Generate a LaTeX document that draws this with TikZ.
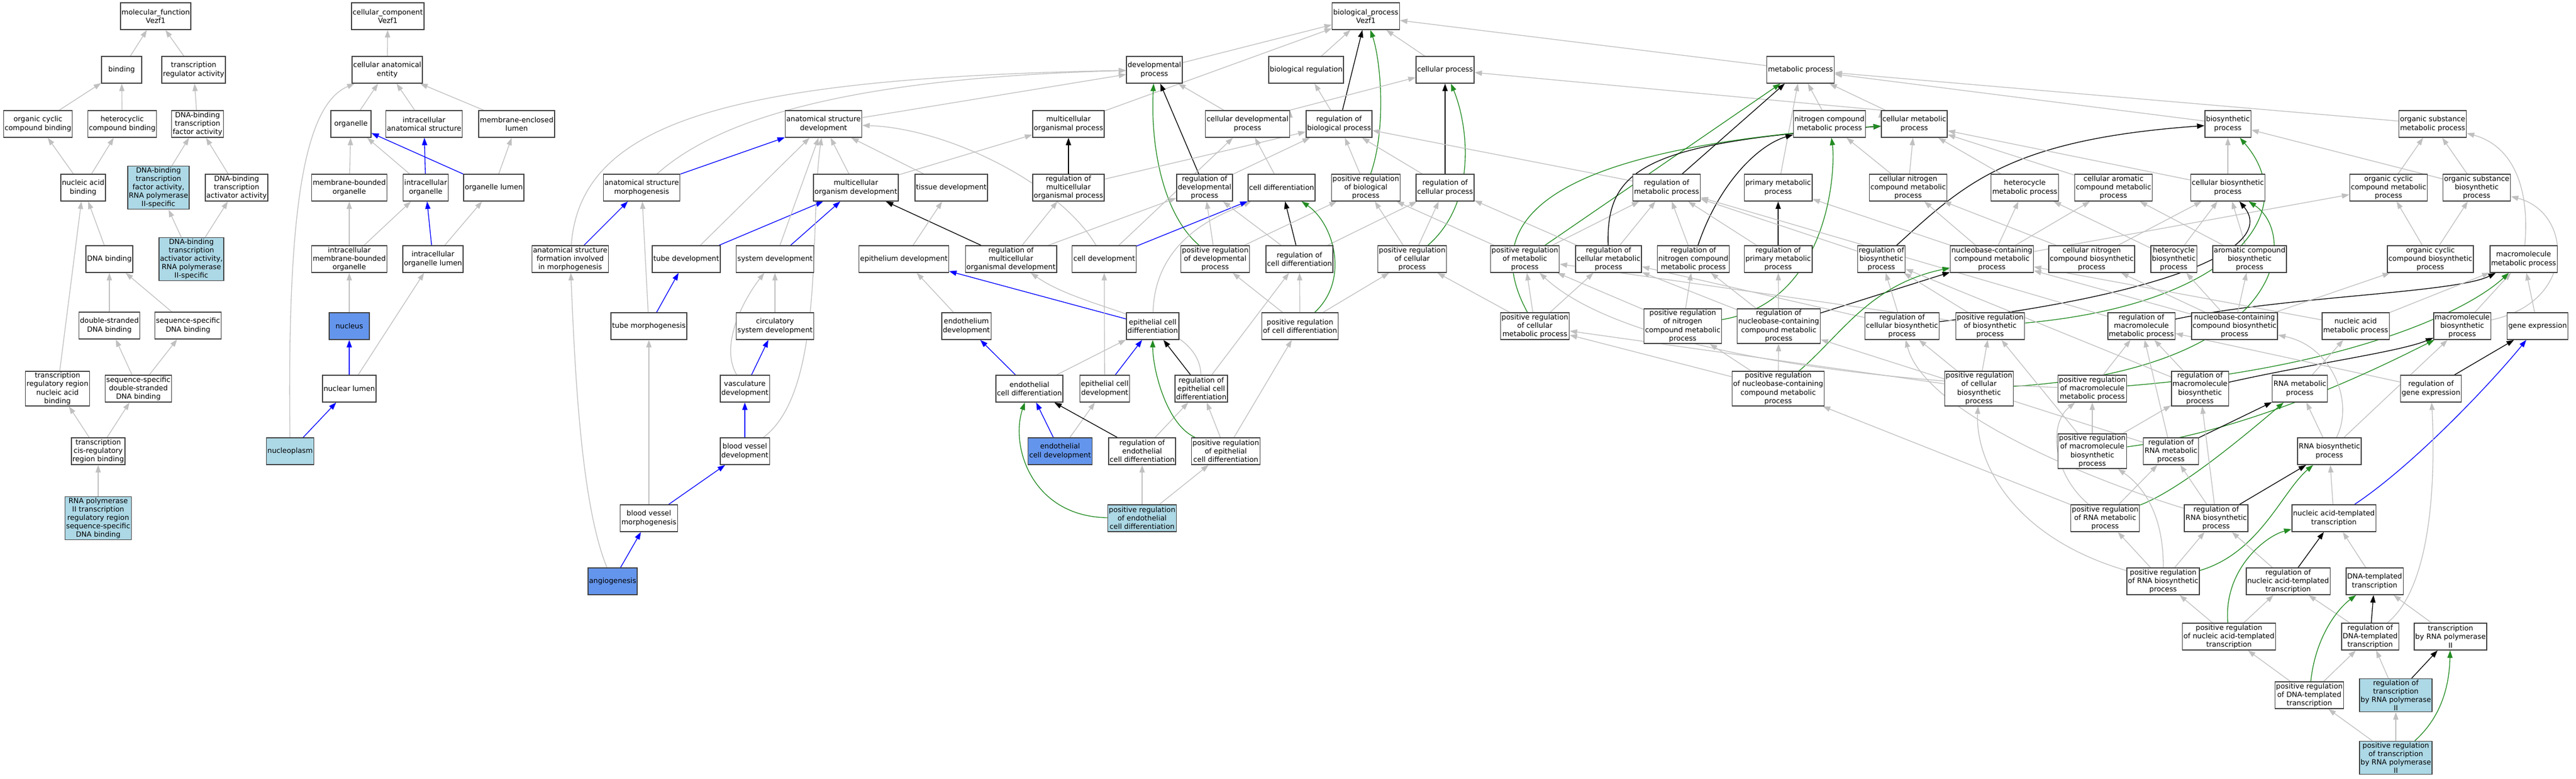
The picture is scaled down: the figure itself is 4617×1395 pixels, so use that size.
\documentclass[tikz,border=0pt]{standalone}
\usepackage{fontspec}
\setmainfont{DejaVu Sans}
\usetikzlibrary{arrows.meta}
\definecolor{edgegray}{HTML}{C0C0C0}
\definecolor{boxline}{HTML}{404040}
\definecolor{annotfill}{HTML}{ADD8E6}
\definecolor{directfill}{HTML}{6495ED}
\definecolor{posgreen}{HTML}{228B22}
\pgfdeclarelayer{bg}
\pgfsetlayers{bg,main}
\tikzset{
  termbox/.style={draw=boxline,line width=1.1pt,fill=white,align=center,inner xsep=1.5pt,inner ysep=1.5pt,
    minimum width=54pt,minimum height=36pt,font=\fontsize{9.6}{11.4}\selectfont},
  annotbox/.style={termbox,fill=annotfill},
  directbox/.style={termbox,fill=directfill},
  isa/.style={color=edgegray,line width=1pt,-{Triangle[length=10pt,width=7pt]}},
  partof/.style={isa,color=blue},
  regulates/.style={isa,color=black},
  posreg/.style={isa,color=posgreen}
}
\begin{document}
\begin{tikzpicture}[x=0.75pt,y=0.75pt]
  \useasboundingbox (0,0) rectangle (4617,-1395);
  \draw(279,-29) node[termbox](mf){molecular\_function\\Vezf1};
  \draw(218,-125) node[termbox](bind){binding};
  \draw(347,-125) node[termbox](tra){transcription\\regulator activity};
  \draw(68,-222) node[termbox](occb){organic cyclic\\compound binding};
  \draw(219,-222) node[termbox](hcb){heterocyclic\\compound binding};
  \draw(354,-222) node[termbox](dbtf){DNA-binding\\transcription\\factor activity};
  \draw(149,-336) node[termbox](nab){nucleic acid\\binding};
  \draw(284,-336) node[annotbox](dbtfii){DNA-binding\\transcription\\factor activity,\\RNA polymerase\\II-specific};
  \draw(424,-336) node[termbox](dbta){DNA-binding\\transcription\\activator activity};
  \draw(196,-464) node[termbox](dnab){DNA binding};
  \draw(343,-464) node[annotbox](dbtaii){DNA-binding\\transcription\\activator activity,\\RNA polymerase\\II-specific};
  \draw(196,-583) node[termbox](dsdb){double-stranded\\DNA binding};
  \draw(337,-583) node[termbox](ssdb){sequence-specific\\DNA binding};
  \draw(103,-696) node[termbox](trrnab){transcription\\regulatory region\\nucleic acid\\binding};
  \draw(248,-696) node[termbox](ssdsdb){sequence-specific\\double-stranded\\DNA binding};
  \draw(176,-808) node[termbox](tcrrb){transcription\\cis-regulatory\\region binding};
  \draw(176,-928) node[annotbox](rnap){RNA polymerase\\II transcription\\regulatory region\\sequence-specific\\DNA binding};

  \draw(695,-29) node[termbox](cc){cellular\_component\\Vezf1};
  \draw(694,-125) node[termbox](cae){cellular anatomical\\entity};
  \draw(629,-222) node[termbox](org){organelle};
  \draw(760,-222) node[termbox](ias){intracellular\\anatomical structure};
  \draw(926,-222) node[termbox](mel){membrane-enclosed\\lumen};
  \draw(626,-336) node[termbox](mbo){membrane-bounded\\organelle};
  \draw(763,-336) node[termbox](io){intracellular\\organelle};
  \draw(885,-336) node[termbox](ol){organelle lumen};
  \draw(626,-464) node[termbox](imbo){intracellular\\membrane-bounded\\organelle};
  \draw(776,-464) node[termbox](iol){intracellular\\organelle lumen};
  \draw(626,-584) node[directbox](nuc){nucleus};
  \draw(626,-696) node[termbox](nl){nuclear lumen};
  \draw(520,-808) node[annotbox](np){nucleoplasm};

  \draw(2448,-29) node[termbox](bp){biological\_process\\Vezf1};
  \draw(2069,-125) node[termbox](dp){developmental\\process};
  \draw(2341,-125) node[termbox](breg){biological regulation};
  \draw(2590,-125) node[termbox](cp){cellular process};
  \draw(3227,-125) node[termbox](mp){metabolic process};
  \draw(1476,-222) node[termbox](asd){anatomical structure\\development};
  \draw(1915,-222) node[termbox](mop){multicellular\\organismal process};
  \draw(2236,-222) node[termbox](cdp){cellular developmental\\process};
  \draw(2400,-222) node[termbox](rbp){regulation of\\biological process};
  \draw(3279,-222) node[termbox](ncmp){nitrogen compound\\metabolic process};
  \draw(3431,-222) node[termbox](cmp){cellular metabolic\\process};
  \draw(3993,-222) node[termbox](bsp){biosynthetic\\process};
  \draw(4360,-222) node[termbox](osmp){organic substance\\metabolic process};

  \draw(1150,-336) node[termbox](asm){anatomical structure\\morphogenesis};
  \draw(1534,-336) node[termbox](mod){multicellular\\organism development};
  \draw(1705,-336) node[termbox](td){tissue development};
  \draw(1915,-336) node[termbox](rmop){regulation of\\multicellular\\organismal process};
  \draw(2159,-336) node[termbox](rdp){regulation of\\developmental\\process};
  \draw(2297,-336) node[termbox](cd){cell differentiation};
  \draw(2448,-336) node[termbox](prbp){positive regulation\\of biological\\process};
  \draw(2590,-336) node[termbox](rcp){regulation of\\cellular process};
  \draw(2987,-336) node[termbox](rmp){regulation of\\metabolic process};
  \draw(3187,-336) node[termbox](pmp){primary metabolic\\process};
  \draw(3420,-336) node[termbox](cncmp){cellular nitrogen\\compound metabolic\\process};
  \draw(3629,-336) node[termbox](hmp){heterocycle\\metabolic process};
  \draw(3788,-336) node[termbox](camp){cellular aromatic\\compound metabolic\\process};
  \draw(3993,-336) node[termbox](cbp){cellular biosynthetic\\process};
  \draw(4281,-336) node[termbox](occmp){organic cyclic\\compound metabolic\\process};
  \draw(4439,-336) node[termbox](osbp){organic substance\\biosynthetic\\process};

  \draw(1022,-464) node[termbox](asfim){anatomical structure\\formation involved\\in morphogenesis};
  \draw(1230,-464) node[termbox](tdev){tube development};
  \draw(1389,-464) node[termbox](sd){system development};
  \draw(1620,-464) node[termbox](ed){epithelium development};
  \draw(1812,-464) node[termbox](rmod){regulation of\\multicellular\\organismal development};
  \draw(1979,-464) node[termbox](cdev){cell development};
  \draw(2178,-464) node[termbox](prdp){positive regulation\\of developmental\\process};
  \draw(2329,-464) node[termbox](rcd){regulation of\\cell differentiation};
  \draw(2531,-464) node[termbox](prcp){positive regulation\\of cellular\\process};
  \draw(2733,-464) node[termbox](prmp){positive regulation\\of metabolic\\process};
  \draw(2883,-464) node[termbox](rcmp){regulation of\\cellular metabolic\\process};
  \draw(3035,-464) node[termbox](rncmp){regulation of\\nitrogen compound\\metabolic process};
  \draw(3187,-464) node[termbox](rpmp){regulation of\\primary metabolic\\process};
  \draw(3372,-464) node[termbox](rbsp){regulation of\\biosynthetic\\process};
  \draw(3570,-464) node[termbox](nccmp){nucleobase-containing\\compound metabolic\\process};
  \draw(3749,-464) node[termbox](cncbp){cellular nitrogen\\compound biosynthetic\\process};
  \draw(3896,-464) node[termbox](hbp){heterocycle\\biosynthetic\\process};
  \draw(4032,-464) node[termbox](acbp){aromatic compound\\biosynthetic\\process};
  \draw(4356,-464) node[termbox](occbp){organic cyclic\\compound biosynthetic\\process};
  \draw(4523,-464) node[termbox](mmp){macromolecule\\metabolic process};

  \draw(1163,-584) node[termbox](tm){tube morphogenesis};
  \draw(1389,-584) node[termbox](csd){circulatory\\system development};
  \draw(1732,-584) node[termbox](endod){endothelium\\development};
  \draw(2066,-584) node[termbox](ecd){epithelial cell\\differentiation};
  \draw(2330,-584) node[termbox](prcd){positive regulation\\of cell differentiation};
  \draw(2751,-584) node[termbox](prcmp){positive regulation\\of cellular\\metabolic process};
  \draw(3016,-584) node[termbox](prncmp){positive regulation\\of nitrogen\\compound metabolic\\process};
  \draw(3188,-584) node[termbox](rnccmp){regulation of\\nucleobase-containing\\compound metabolic\\process};
  \draw(3409,-584) node[termbox](rcbp){regulation of\\cellular biosynthetic\\process};
  \draw(3567,-584) node[termbox](prbsp){positive regulation\\of biosynthetic\\process};
  \draw(3838,-584) node[termbox](rmmp){regulation of\\macromolecule\\metabolic process};
  \draw(4005,-584) node[termbox](nccbp){nucleobase-containing\\compound biosynthetic\\process};
  \draw(4222,-584) node[termbox](namp){nucleic acid\\metabolic process};
  \draw(4413,-584) node[termbox](mbp){macromolecule\\biosynthetic\\process};
  \draw(4548,-584) node[termbox](ge){gene expression};

  \draw(1335,-696) node[termbox](vd){vasculature\\development};
  \draw(1845,-696) node[termbox](encd){endothelial\\cell differentiation};
  \draw(1980,-696) node[termbox](ecdev){epithelial cell\\development};
  \draw(2153,-696) node[termbox](recd){regulation of\\epithelial cell\\differentiation};
  \draw(3187,-696) node[termbox](prnccmp){positive regulation\\of nucleobase-containing\\compound metabolic\\process};
  \draw(3547,-696) node[termbox](prcbp){positive regulation\\of cellular\\biosynthetic\\process};
  \draw(3750,-696) node[termbox](prmmp){positive regulation\\of macromolecule\\metabolic process};
  \draw(3943,-696) node[termbox](rmbp){regulation of\\macromolecule\\biosynthetic\\process};
  \draw(4122,-696) node[termbox](rnamp){RNA metabolic\\process};
  \draw(4357,-696) node[termbox](rge){regulation of\\gene expression};

  \draw(1335,-808) node[termbox](bvd){blood vessel\\development};
  \draw(1900,-808) node[directbox](encdev){endothelial\\cell development};
  \draw(2047,-808) node[termbox](rencd){regulation of\\endothelial\\cell differentiation};
  \draw(2197,-808) node[termbox](precd){positive regulation\\of epithelial\\cell differentiation};
  \draw(3750,-808) node[termbox](prmbp){positive regulation\\of macromolecule\\biosynthetic\\process};
  \draw(3891,-808) node[termbox](rrmp){regulation of\\RNA metabolic\\process};
  \draw(4175,-808) node[termbox](rnabp){RNA biosynthetic\\process};

  \draw(1163,-928) node[termbox](bvm){blood vessel\\morphogenesis};
  \draw(2047,-928) node[annotbox](prencd){positive regulation\\of endothelial\\cell differentiation};
  \draw(3773,-928) node[termbox](prrmp){positive regulation\\of RNA metabolic\\process};
  \draw(3972,-928) node[termbox](rrbp){regulation of\\RNA biosynthetic\\process};
  \draw(4183,-928) node[termbox](natt){nucleic acid-templated\\transcription};

  \draw(1098,-1041) node[directbox](ang){angiogenesis};
  \draw(3877,-1041) node[termbox](prrbp){positive regulation\\of RNA biosynthetic\\process};
  \draw(4101,-1041) node[termbox](rnatt){regulation of\\nucleic acid-templated\\transcription};
  \draw(4256,-1041) node[termbox](dtt){DNA-templated\\transcription};

  \draw(3995,-1140) node[termbox](prnatt){positive regulation\\of nucleic acid-templated\\transcription};
  \draw(4248,-1140) node[termbox](rdtt){regulation of\\DNA-templated\\transcription};
  \draw(4392,-1140) node[termbox](trp2){transcription\\by RNA polymerase\\II};
  \draw(4139,-1245) node[termbox](prdtt){positive regulation\\of DNA-templated\\transcription};
  \draw(4294,-1245) node[annotbox](rtrp2){regulation of\\transcription\\by RNA polymerase\\II};
  \draw(4294,-1357) node[annotbox](prtrp2){positive regulation\\of transcription\\by RNA polymerase\\II};

  \begin{pgfonlayer}{bg}
  \draw[isa] (bind) edge (mf);
  \draw[isa] (tra) edge (mf);
  \draw[isa] (occb) edge (bind);
  \draw[isa] (hcb) edge (bind);
  \draw[isa] (dbtf) edge (tra);
  \draw[isa] (nab) edge (occb) edge (hcb);
  \draw[isa] (dbtfii) edge (dbtf);
  \draw[isa] (dbta) edge (dbtf);
  \draw[isa] (dnab) edge (nab);
  \draw[isa] (dbtaii) edge (dbtfii) edge (dbta);
  \draw[isa] (dsdb) edge (dnab);
  \draw[isa] (ssdb) edge (dnab);
  \draw[isa] (trrnab) edge (nab);
  \draw[isa] (ssdsdb) edge (dsdb) edge (ssdb);
  \draw[isa] (tcrrb) edge (trrnab) edge (ssdsdb);
  \draw[isa] (rnap) edge (tcrrb);

  \draw[isa] (cae) edge (cc);
  \draw[isa] (org) edge (cae);
  \draw[isa] (ias) edge (cae);
  \draw[isa] (mel) edge (cae);
  \draw[isa] (mbo) edge (org);
  \draw[isa] (io) edge (org);
  \draw[partof] (io) edge (ias);
  \draw[partof] (ol) edge (org);
  \draw[isa] (ol) edge (mel);
  \draw[isa] (imbo) edge (mbo) edge (io);
  \draw[partof] (iol) edge (io);
  \draw[isa] (iol) edge (ol);
  \draw[isa] (nuc) edge (imbo);
  \draw[partof] (nl) edge (nuc);
  \draw[isa] (nl) edge (iol);
  \draw[partof] (np) edge (nl);
  \draw[isa] (np) .. controls (515,-400) and (540,-190) .. (cae);

  \draw[isa] (dp) edge (bp);
  \draw[isa] (breg) edge (bp);
  \draw[isa] (cp) edge (bp);
  \draw[isa] (mp) edge (bp);
  \draw[isa] (mop) edge (bp);
  \draw[regulates] (rbp) edge (bp);
  \draw[posreg] (prbp) .. controls (2485,-230) and (2475,-110) .. (bp);
  \draw[isa] (asd) edge (dp);
  \draw[isa] (asm) .. controls (1280,-220) and (1500,-140) .. (dp);
  \draw[isa] (asfim) .. controls (1040,-220) and (1300,-140) .. (dp);
  \draw[isa] (cdp) edge (dp) (cdp.north east) edge (cp);
  \draw[regulates] (rdp) edge (dp);
  \draw[posreg] (prdp) .. controls (2080,-380) and (2062,-250) .. (dp);
  \draw[isa] (mod) edge (asd) edge (mop);
  \draw[isa] (td) edge (asd);
  \draw[partof] (asm) edge (asd);
  \draw[isa] (cdev) .. controls (1900,-330) and (1700,-230) .. (asd);
  \draw[isa] (tdev) edge (asd);
  \draw[partof] (tdev) edge (mod);
  \draw[isa] (sd) edge (asd);
  \draw[partof] (sd) edge (mod);
  \draw[isa] (bvd) .. controls (1480,-700) and (1450,-400) .. (asd);
  \draw[partof] (bvd) edge (vd);
  \draw[regulates] (rmod) edge (mod);
  \draw[isa] (rmod) edge (rmop) edge (rdp);
  \draw[partof] (asfim) edge (asm);
  \draw[isa] (tm) edge (asm);
  \draw[partof] (tm) edge (tdev);
  \draw[isa] (csd) edge (sd);
  \draw[partof] (vd) edge (csd);
  \draw[isa] (vd) .. controls (1290,-620) and (1330,-540) .. (sd);
  \draw[partof] (bvm) edge (bvd);
  \draw[isa] (bvm) edge (tm);
  \draw[partof] (ang) edge (bvm);
  \draw[isa] (ang) .. controls (1040,-900) and (1030,-650) .. (asfim);
  \draw[isa] (ed) edge (td);
  \draw[isa] (endod) edge (ed);
  \draw[partof] (ecd) edge (ed);
  \draw[isa] (ecd) .. controls (2070,-420) and (2200,-380) .. (cd);
  \draw[regulates] (rmop) edge (mop);
  \draw[isa] (rmop) edge (rbp);
  \draw[isa] (rdp) edge (rbp);
  \draw[isa] (cd) edge (cdp);
  \draw[partof] (cdev) edge (cd);
  \draw[isa] (cdev) edge (cdp);
  \draw[regulates] (rcd) edge (cd);
  \draw[isa] (rcd) edge (rdp) edge (rcp);
  \draw[isa] (prdp) edge (rdp) edge (prbp);
  \draw[posreg] (prcd) .. controls (2420,-500) and (2390,-400) .. (cd);
  \draw[isa] (prcd) edge (rcd) edge (prdp) edge (prcp);
  \draw[isa] (prbp) edge (rbp);
  \draw[isa] (rbp) edge (breg);
  \draw[regulates] (rcp) edge (cp);
  \draw[isa] (rcp) edge (rbp);
  \draw[posreg] (prcp) .. controls (2650,-360) and (2630,-220) .. (cp);
  \draw[isa] (prcp) edge (rcp) edge (prbp);
  \draw[isa] (encd) edge (ecd);
  \draw[partof] (encd) edge (endod);
  \draw[partof] (ecdev) edge (ecd);
  \draw[isa] (ecdev) edge (cdev);
  \draw[regulates] (recd) edge (ecd);
  \draw[isa] (recd) edge (rcd);
  \draw[isa] (recd) .. controls (2150,-570) and (1950,-560) .. (rmod);
  \draw[partof] (encdev) edge (encd);
  \draw[isa] (encdev) edge (ecdev);
  \draw[regulates] (rencd) edge (encd);
  \draw[isa] (rencd) edge (recd);
  \draw[posreg] (precd) .. controls (2090,-760) and (2066,-660) .. (ecd);
  \draw[isa] (precd) edge (recd) edge (prcd);
  \draw[posreg] (prencd) .. controls (1850,-925) and (1810,-800) .. (encd);
  \draw[isa] (prencd) edge (rencd) edge (precd);

  \draw[isa] (ncmp) edge (mp);
  \draw[isa] (pmp) edge (mp);
  \draw[isa] (cmp) edge (mp) (cmp.north west) edge (cp);
  \draw[isa] (osmp) edge (mp);
  \draw[isa] (bsp) edge (mp);
  \draw[regulates] (rmp) edge (mp);
  \draw[isa] (rmp) edge (rbp);
  \draw[posreg] (prmp) edge (mp);
  \draw[isa] (prmp) edge (rmp) edge (prbp);
  \draw[regulates] (rcmp) .. controls (2878,-300) and (2950,-255) .. (cmp);
  \draw[isa] (rcmp) edge (rcp) edge (rmp);
  \draw[regulates] (rncmp) .. controls (3080,-330) and (3150,-260) .. (ncmp);
  \draw[isa] (rncmp) edge (rmp);
  \draw[regulates] (rpmp) edge (pmp);
  \draw[isa] (rpmp) edge (rmp);
  \draw[regulates] (rbsp) .. controls (3520,-330) and (3600,-250) .. (bsp);
  \draw[isa] (rbsp) edge (rmp);
  \draw[isa] (cncmp) edge (cmp) edge (ncmp);
  \draw[isa] (hmp) edge (cmp);
  \draw[isa] (camp) edge (cmp);
  \draw[isa] (cbp) edge (cmp) edge (bsp);
  \draw[isa] (occmp) edge (osmp);
  \draw[isa] (osbp) edge (osmp) edge (bsp);
  \draw[isa] (nccmp) edge (cncmp) edge (hmp) edge (camp) edge (occmp) edge (pmp);
  \draw[isa] (cncbp) edge (cncmp) edge (cbp);
  \draw[isa] (hbp) edge (hmp) edge (cbp);
  \draw[isa] (acbp) edge (camp) edge (cbp);
  \draw[isa] (occbp) edge (occmp) edge (osbp);
  \draw[isa] (mmp) .. controls (4535,-330) and (4500,-260) .. (osmp);
  \draw[posreg] (prcmp) .. controls (2640,-380) and (2800,-262) .. (cmp);
  \draw[isa] (prcmp) edge (prcp) edge (prmp) edge (rcmp);
  \draw[posreg] (prncmp) .. controls (3280,-540) and (3290,-300) .. (ncmp);
  \draw[isa] (prncmp) edge (prmp) edge (rncmp);
  \draw[regulates] (rnccmp) edge (nccmp);
  \draw[isa] (rnccmp) edge (rcmp) edge (rncmp) edge (rpmp);
  \draw[regulates] (rcbp) .. controls (3900,-525) and (4080,-440) .. (cbp);
  \draw[isa] (rcbp) edge (rbsp) edge (rcmp);
  \draw[posreg] (prbsp) .. controls (4000,-545) and (4130,-380) .. (bsp);
  \draw[isa] (prbsp) edge (rbsp) edge (prmp);
  \draw[regulates] (rmmp) .. controls (4100,-530) and (4400,-525) .. (mmp);
  \draw[isa] (rmmp) edge (rmp);
  \draw[isa] (nccbp) edge (nccmp) edge (cncbp) edge (hbp) edge (acbp) edge (occbp);
  \draw[isa] (namp) edge (nccmp) edge (mmp);
  \draw[isa] (mbp) edge (mmp);
  \draw[isa] (mbp) .. controls (4620,-540) and (4610,-380) .. (osbp);
  \draw[isa] (ge) edge (mmp);
  \draw[posreg] (prnccmp) .. controls (3300,-600) and (3350,-510) .. (nccmp);
  \draw[isa] (prnccmp) edge (rnccmp) edge (prncmp) edge (prcmp);
  \draw[posreg] (prcbp) .. controls (4100,-660) and (4120,-420) .. (cbp);
  \draw[isa] (prcbp) edge (rcbp) edge (prbsp) edge (prcmp);
  \draw[posreg] (prmmp) .. controls (4200,-660) and (4420,-560) .. (mmp);
  \draw[isa] (prmmp) edge (rmmp);
  \draw[isa] (prmmp) .. controls (3300,-680) and (2900,-620) .. (prmp);
  \draw[regulates] (rmbp) .. controls (4150,-650) and (4300,-630) .. (mbp);
  \draw[isa] (rmbp) edge (rmmp) edge (rbsp);
  \draw[isa] (rnamp) edge (namp);
  \draw[regulates] (rge) edge (ge);
  \draw[isa] (rge) edge (rmmp);
  \draw[posreg] (prmbp) .. controls (4050,-770) and (4300,-640) .. (mbp);
  \draw[isa] (prmbp) edge (prmmp) edge (rmbp) edge (prbsp);
  \draw[regulates] (rrmp) edge (rnamp);
  \draw[isa] (rrmp) edge (rnccmp) edge (rmmp);
  \draw[isa] (rnabp) edge (rnamp) edge (mbp);
  \draw[isa] (rnabp) .. controls (4220,-720) and (4180,-620) .. (nccbp);
  \draw[posreg] (prrmp) .. controls (3900,-880) and (4000,-800) .. (rnamp);
  \draw[isa] (prrmp) edge (rrmp) edge (prnccmp);
  \draw[isa] (prrmp) .. controls (3680,-850) and (3670,-760) .. (prmmp);
  \draw[regulates] (rrbp) edge (rnabp);
  \draw[isa] (rrbp) edge (rrmp) edge (rmbp);
  \draw[isa] (rrbp) .. controls (3750,-860) and (3450,-740) .. (rcbp);
  \draw[isa] (natt) edge (rnabp);
  \draw[partof] (natt) .. controls (4330,-830) and (4470,-680) .. (ge);
  \draw[posreg] (prrbp) .. controls (4050,-990) and (4090,-880) .. (rnabp);
  \draw[isa] (prrbp) edge (prrmp) edge (rrbp);
  \draw[isa] (prrbp) .. controls (3878,-920) and (3840,-870) .. (prmbp);
  \draw[isa] (prrbp) .. controls (3600,-960) and (3540,-820) .. (prcbp);
  \draw[regulates] (rnatt) edge (natt);
  \draw[isa] (rnatt) edge (rrbp);
  \draw[isa] (dtt) edge (natt);
  \draw[posreg] (prnatt) .. controls (3985,-1020) and (4060,-960) .. (natt);
  \draw[isa] (prnatt) edge (prrbp) edge (rnatt);
  \draw[regulates] (rdtt) edge (dtt);
  \draw[isa] (rdtt) edge (rnatt);
  \draw[isa] (rdtt) .. controls (4360,-1050) and (4365,-850) .. (rge);
  \draw[isa] (trp2) edge (dtt);
  \draw[posreg] (prdtt) .. controls (4150,-1140) and (4190,-1090) .. (dtt);
  \draw[isa] (prdtt) edge (prnatt) edge (rdtt);
  \draw[regulates] (rtrp2) edge (trp2);
  \draw[isa] (rtrp2) edge (rdtt);
  \draw[posreg] (prtrp2) .. controls (4380,-1280) and (4390,-1220) .. (trp2);
  \draw[isa] (prtrp2) edge (prdtt) edge (rtrp2);
  \end{pgfonlayer}
\end{tikzpicture}
\end{document}
